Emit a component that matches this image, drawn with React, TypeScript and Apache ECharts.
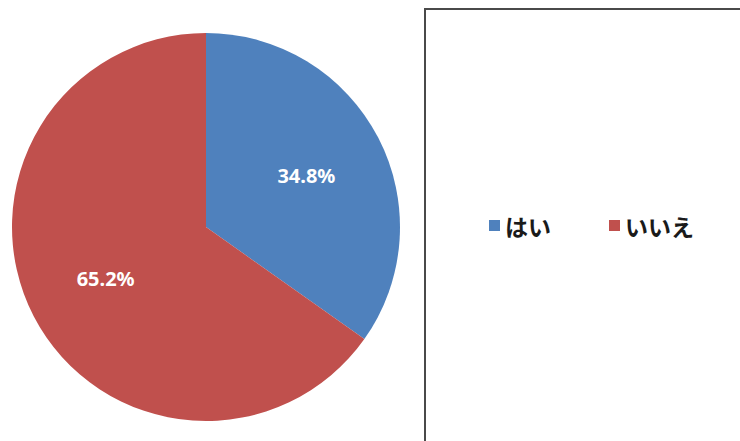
import React, { useEffect, useRef } from "react";
import * as echarts from "echarts";

const categories = ["はい", "いいえ"];
const values = [34.8, 65.2];
const colors = ["#4F81BD", "#C0504D"];

export default function App() {
  const ref = useRef<HTMLDivElement>(null);
  useEffect(() => {
    if (!ref.current) return;
    const chart = echarts.init(ref.current, null, { renderer: "svg" });
    const data = categories.map((name, i) => ({
      name,
      value: values[i],
      itemStyle: { color: colors[i] },
    }));
    chart.setOption({
      animation: false,
      backgroundColor: "#ffffff",
      graphic: [
        {
          type: "rect",
          shape: { x: 425, y: 9, width: 330, height: 445 },
          style: { fill: "#ffffff", stroke: "#4a4a4a", lineWidth: 2 },
          z: -10,
        },
      ],
      legend: {
        data: categories,
        left: 484,
        top: 209,
        icon: "rect",
        itemWidth: 11,
        itemHeight: 11,
        itemGap: 58,
        textStyle: {
          fontFamily: "Noto Sans CJK JP",
          fontWeight: "bold",
          fontSize: 23,
          color: "#1a1a1a",
          padding: [0, 0, 0, 0],
        },
      },
      series: [
        {
          type: "pie",
          center: [206, 227],
          radius: [0, 194],
          startAngle: 90,
          clockwise: true,
          label: { show: false },
          labelLine: { show: false },
          silent: true,
          data,
        },
        {
          type: "pie",
          center: [206, 227],
          radius: [0, 220],
          startAngle: 90,
          clockwise: true,
          silent: true,
          itemStyle: { color: "rgba(0,0,0,0)" },
          label: {
            show: true,
            position: "inside",
            formatter: (p: any) => p.value.toFixed(1) + "%",
            color: "#ffffff",
            fontFamily: "Noto Sans",
            fontWeight: "bold",
            fontSize: 20,
          },
          labelLine: { show: false },
          data: categories.map((name, i) => ({ name, value: values[i] })),
        },
      ],
    });
    return () => chart.dispose();
  }, []);
  return (
    <div
      ref={ref}
      style={{ position: "fixed", left: 0, top: 0, width: 740, height: 441 }}
    />
  );
}
